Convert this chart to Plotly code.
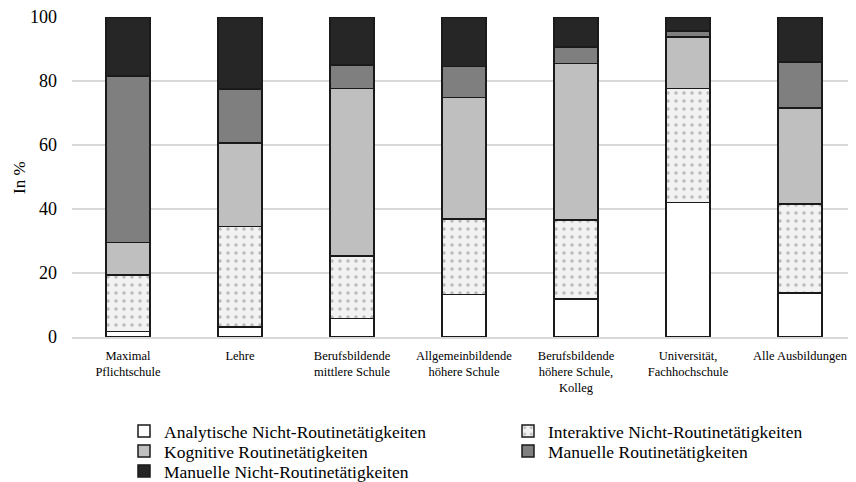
import plotly.graph_objects as go

categories = [
    "Maximal<br>Pflichtschule",
    "Lehre",
    "Berufsbildende<br>mittlere Schule",
    "Allgemeinbildende<br>höhere Schule",
    "Berufsbildende<br>höhere Schule,<br>Kolleg",
    "Universität,<br>Fachhochschule",
    "Alle Ausbildungen",
]

analytisch = [1.7, 3.2, 5.8, 13.3, 11.9, 42.0, 13.8]
interaktiv = [17.7, 31.3, 19.5, 23.6, 24.6, 35.7, 27.8]
kognitiv = [10.1, 26.2, 52.3, 37.9, 49.0, 16.1, 30.0]
manuell_routine = [52.1, 16.8, 7.4, 9.7, 5.1, 1.8, 14.3]
manuell_nicht = [18.4, 22.5, 15.0, 15.5, 9.4, 4.4, 14.1]

series_names = [
    "Analytische Nicht-Routinetätigkeiten",
    "Interaktive Nicht-Routinetätigkeiten",
    "Kognitive Routinetätigkeiten",
    "Manuelle Routinetätigkeiten",
    "Manuelle Nicht-Routinetätigkeiten",
]
y_ticks = [0, 20, 40, 60, 80, 100]
y_title = "In %"

series = [analytisch, interaktiv, kognitiv, manuell_routine, manuell_nicht]
colors = ["#ffffff", "#f2f2f2", "#bfbfbf", "#7f7f7f", "#262626"]

# figure is drawn inside the page body, which has an 8px margin
W, H, OFF = 848, 474, 8
PL, PT, PB = 72, 17, 337  # plot area in screen pixels
# legend layout: (column text x, row center y) in screen pixels
legend_pos = [(164, 431), (548, 431), (164, 451), (548, 451), (164, 471)]
legend_ids = ["legend", "legend2", "legend3", "legend4", "legend5"]

fig = go.Figure()
for i, (name, vals, col) in enumerate(zip(series_names, series, colors)):
    marker = dict(color=col, line=dict(color="#1a1a1a", width=1.5))
    if i == 1:
        marker["pattern"] = dict(shape=".", bgcolor="#f2f2f2", fgcolor="#808080",
                                 size=8, solidity=0.15, fillmode="overlay")
    fig.add_trace(go.Bar(x=categories, y=vals, name=name, marker=marker,
                         width=0.39, legend=legend_ids[i]))

legends = {}
for lid, (tx, cy) in zip(legend_ids, legend_pos):
    legends[lid] = dict(
        orientation="v", xanchor="left", yanchor="middle",
        xref="container", yref="container",
        x=(tx - 40 - OFF) / W, y=1 - (cy - OFF) / H,
        itemwidth=30, tracegroupgap=0, borderwidth=0,
        bgcolor="rgba(0,0,0,0)",
        font=dict(family="Liberation Serif", size=17.5, color="#000000"),
    )

plot_w = W + OFF - PL
fig.add_annotation(
    text=y_title, textangle=-90, showarrow=False,
    xref="paper", yref="paper", x=(19 - PL) / plot_w, y=0.5,
    xanchor="center", yanchor="middle",
    font=dict(family="Liberation Serif", size=17, color="#000000"),
)

fig.update_layout(
    barmode="stack",
    width=W, height=H,
    margin=dict(l=PL - OFF, r=0, t=PT - OFF, b=H - (PB - OFF), autoexpand=False),
    paper_bgcolor="white", plot_bgcolor="white",
    font=dict(family="Liberation Serif", color="#000000"),
    showlegend=True,
    **legends,
    xaxis=dict(
        tickfont=dict(family="Liberation Serif", size=12.5),
        showline=True, linecolor="#d9d9d9", linewidth=1.5,
        ticks="", range=[-0.5, 6.5], ticklabelstandoff=6,
        tickangle=0, automargin=False,
    ),
    yaxis=dict(
        range=[0, 100], tickvals=y_ticks,
        tickfont=dict(family="Liberation Serif", size=18),
        showgrid=True, gridcolor="#d9d9d9", gridwidth=1.5,
        zeroline=False, ticks="", ticklabelstandoff=14,
        automargin=False, ticklabeloverflow="allow",
    ),
)

fig.write_html("out.html")
